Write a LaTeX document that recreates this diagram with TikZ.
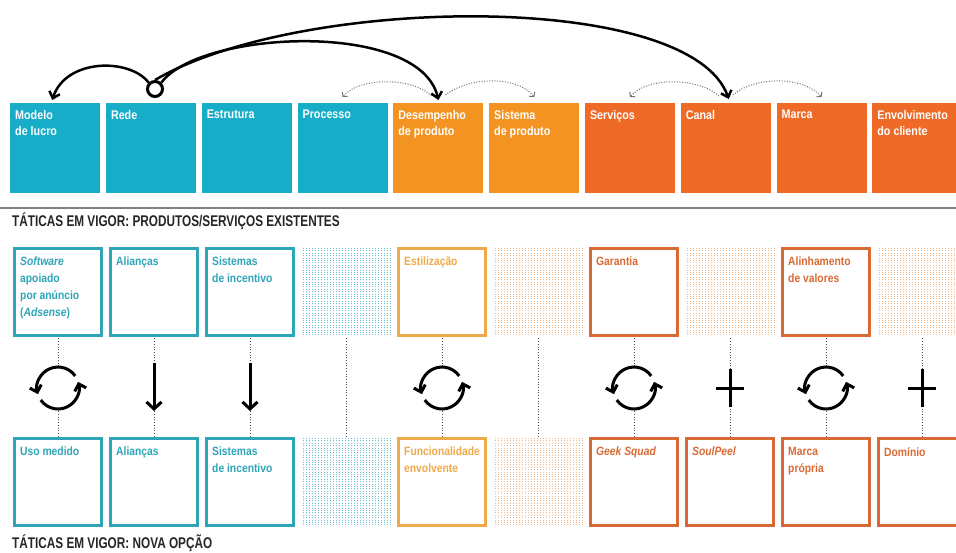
\documentclass[tikz,border=0pt]{standalone}
\usepackage{fontspec}
\newfontfamily\condH{Liberation Sans}[FakeStretch=0.86]
\newfontfamily\condT{Liberation Sans}[FakeStretch=0.76]
\usetikzlibrary{arrows.meta}
\definecolor{cyanH}{HTML}{17ADC8}
\definecolor{orA}{HTML}{F39321}
\definecolor{orB}{HTML}{EE6A26}
\definecolor{tcy}{HTML}{2FA5B8}
\definecolor{tor}{HTML}{F0A94A}
\definecolor{tre}{HTML}{D96A35}
\definecolor{patc}{HTML}{6FC2D3}
\definecolor{pato}{HTML}{EFB78A}
\begin{document}
\begin{tikzpicture}[x=1pt,y=-1pt,
  hbox/.style={rectangle, inner sep=0pt, minimum width=90pt, minimum height=90pt, anchor=north west, draw=none},
  htext/.style={anchor=north west, inner sep=0pt, align=left, text=white, font=\condH\bfseries\fontsize{12.5}{16}\selectfont},
  slot/.style={rectangle, inner sep=0pt, minimum width=90pt, minimum height=90pt, anchor=north west},
  ttext/.style={anchor=north west, inner sep=0pt, align=left, font=\condH\bfseries\fontsize{12}{17}\selectfont},
  tframe/.style={line width=3pt, fill=white},
  patline/.style={line width=0.8pt, dash pattern=on 0.8pt off 1.6pt},
  vdot/.style={draw=black!70, line width=0.9pt, dash pattern=on 0.9pt off 1.8pt},
  icon/.style={line width=3pt, draw=black},
  bigarc/.style={line width=2.5pt, draw=black},
  smallarc/.style={draw=black!55, line width=1pt, dash pattern=on 1pt off 1.6pt},
  titletext/.style={anchor=west, inner sep=0pt, text=black!85, font=\condT\bfseries\fontsize{15.5}{17}\selectfont},
]
\useasboundingbox (0,0) rectangle (956,552);
\fill[white] (0,0) rectangle (956,552);

% header boxes
\foreach \i/\c/\t in {1/cyanH/{Modelo\\de lucro},2/cyanH/Rede,3/cyanH/Estrutura,4/cyanH/Processo,5/orA/{Desempenho\\de produto},6/orA/{Sistema\\de produto},7/orB/Serviços,8/orB/Canal,9/orB/Marca,10/orB/{Envolvimento\\do cliente}}{
  \node[hbox, fill=\c] (h\i) at ({10+95.8*(\i-1)},103) {};
  \node[htext] (ht\i) at ([shift={(5,7)}]h\i.north west) {\t};
}

% top arcs
\node[circle, draw, line width=3pt, minimum size=15pt, inner sep=0pt] (ring) at (155,89) {};
\draw[bigarc, -{Straight Barb[length=6pt,width=11pt]}] (ring.north west) .. controls (130,58) and (66,58) .. ([shift={(-3,-3)}]h1.north);
\draw[bigarc, -{Straight Barb[length=6pt,width=11pt]}] (ring.north east) .. controls (200,30) and (420,20) .. ([yshift=3pt]h5.north);
\draw[bigarc, -{Straight Barb[length=6pt,width=11pt]}] (ring.north) .. controls (300,-5) and (690,-10) .. ([shift={(3,-4)}]h8.north);

% dotted small arcs
\draw[smallarc, -{Straight Barb[length=3pt,width=7pt]}] ([shift={(-7,-7)}]h5.north) .. controls (415,78) and (360,76) .. ([yshift=6pt]h4.north);
\draw[smallarc, -{Straight Barb[length=3pt,width=7pt]}] ([shift={(7,-8)}]h5.north) .. controls (470,76) and (518,76) .. ([yshift=6pt]h6.north);
\draw[smallarc, -{Straight Barb[length=3pt,width=7pt]}] ([shift={(-7,-7)}]h8.north) .. controls (700,78) and (648,76) .. ([yshift=6pt]h7.north);
\draw[smallarc, -{Straight Barb[length=3pt,width=7pt]}] ([shift={(7,-8)}]h8.north) .. controls (755,76) and (803,76) .. ([yshift=6pt]h9.north);

% rule and titles
\draw[black!50, line width=1.5pt] (0,208) -- (956,208);
\node[titletext] (tt1) at (12,221) {TÁTICAS EM VIGOR: PRODUTOS/SERVIÇOS EXISTENTES};
\node[titletext] (tt2) at (12,543) {TÁTICAS EM VIGOR: NOVA OPÇÃO};

% slots
\foreach \i in {1,...,10}{
  \node[slot] (t\i) at ({13+96*(\i-1)},247) {};
  \node[slot] (b\i) at ({13+96*(\i-1)},437) {};
}

% patterns
\foreach \i/\c/\y in {4/patc/247,6/pato/247,8/pato/247,10/pato/247,4/patc/437,6/pato/437}{
  \foreach \k in {0,...,29}{
    \draw[patline, draw=\c] ({13+96*(\i-1)+2+3*\k},\y+1) -- ({13+96*(\i-1)+2+3*\k},\y+89);
  }
}

% tactic frames
\foreach \r/\i/\c/\t in {t/1/tcy/{\textit{Software}\\apoiado\\por anúncio\\(\textit{Adsense})},t/2/tcy/Alianças,t/3/tcy/{Sistemas\\de incentivo},t/5/tor/Estilização,t/7/tre/Garantia,t/9/tre/{Alinhamento\\de valores},b/1/tcy/Uso medido,b/2/tcy/Alianças,b/3/tcy/{Sistemas\\de incentivo},b/5/tor/{Funcionalidade\\envolvente},b/7/tre/\textit{Geek Squad},b/8/tre/\textit{SoulPeel},b/9/tre/{Marca\\própria},b/10/tre/Domínio}{
  \draw[tframe, draw=\c] ([shift={(1.5,1.5)}]\r\i.north west) rectangle ([shift={(-1.5,-1.5)}]\r\i.south east);
  \node[ttext, text=\c] at ([shift={(7,10)}]\r\i.north west) {\t};
}

% vertical dotted connectors
\foreach \i in {1,...,10}{
  \draw[vdot] ([yshift=-1pt]t\i.south) -- ([yshift=1pt]b\i.north);
}

% cycle icons
\foreach \i in {1,5,7,9}{
  \begin{scope}[shift={({58+96*(\i-1)},388)}, yscale=-1]
    \fill[white] (0,0) circle[radius=21];
    \draw[icon, -{Straight Barb[length=6pt,width=12pt]}] (35:21) arc[start angle=35, end angle=197, radius=21];
    \draw[icon, -{Straight Barb[length=6pt,width=12pt]}] (215:21) arc[start angle=215, end angle=377, radius=21];
  \end{scope}
}
% down arrows
\foreach \i in {2,3}{
  \draw[icon, -{Straight Barb[length=7pt,width=15pt]}] ({58+96*(\i-1)},363) -- ({58+96*(\i-1)},411);
}
% plus signs
\foreach \i in {8,10}{
  \draw[icon] ({58+96*(\i-1)-14},388) -- ({58+96*(\i-1)+14},388);
  \draw[icon] ({58+96*(\i-1)},369) -- ({58+96*(\i-1)},407);
}
\end{tikzpicture}
\end{document}
